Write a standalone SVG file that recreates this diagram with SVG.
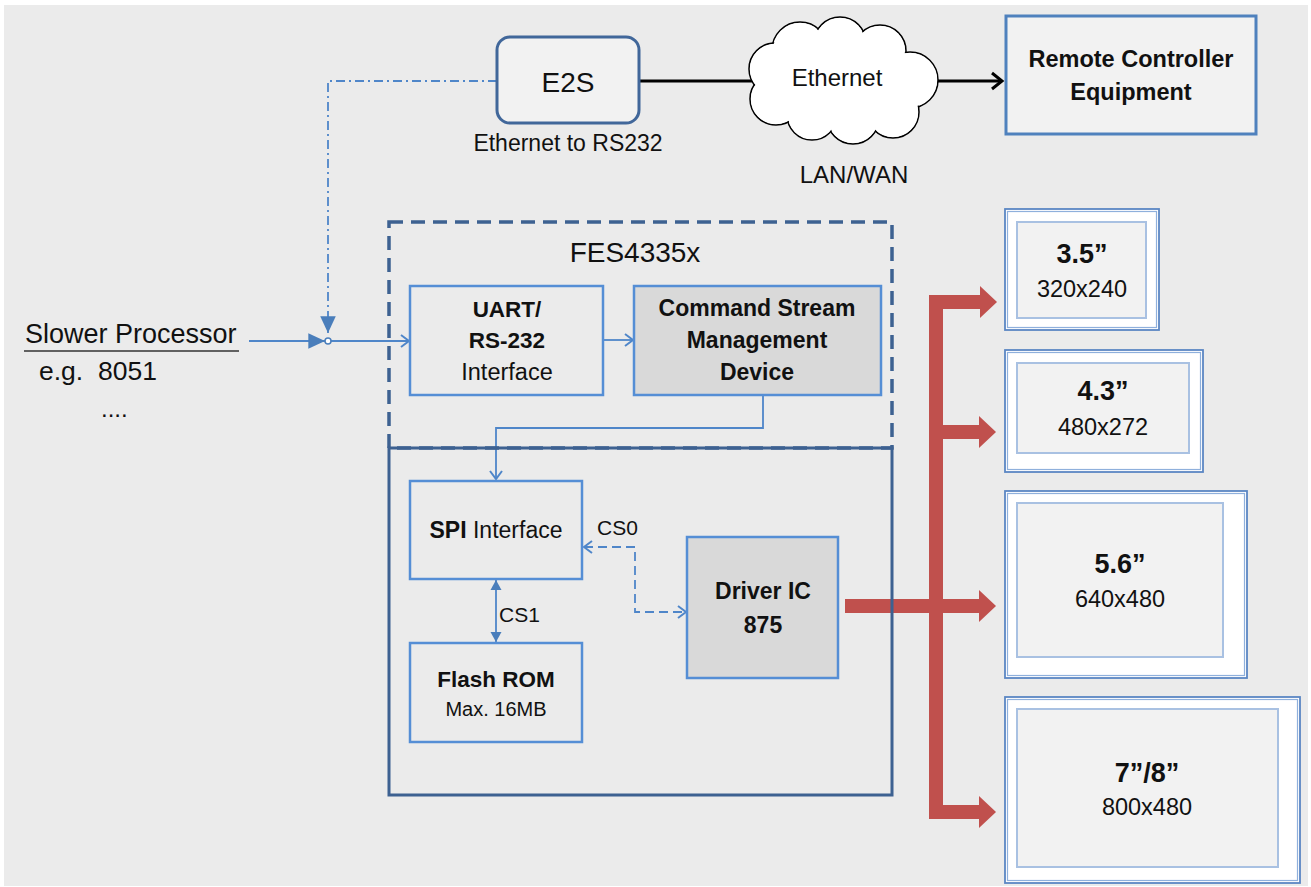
<svg xmlns="http://www.w3.org/2000/svg" width="1311" height="887" viewBox="0 0 1311 887">
<defs>
<style>
text{font-family:"Liberation Sans",Arial,sans-serif;fill:#111;}
.b{font-weight:bold;}
.box{fill:none;stroke:#558ed5;stroke-width:2.5;}
.gbox{fill:#d9d9d9;stroke:#558ed5;stroke-width:2.5;}
.conn{fill:none;stroke:#4f86c9;stroke-width:1.8;}
.disp-o{fill:#fff;stroke:#5b87c4;stroke-width:1.8;}
.disp-o2{fill:none;stroke:#8fb0dc;stroke-width:1.2;}
.disp-i{fill:#f2f2f2;stroke:#a9c1e2;stroke-width:2;}
.red{fill:none;stroke:#c0504d;stroke-width:14;stroke-linejoin:miter;}
</style>
<marker id="chev" markerUnits="userSpaceOnUse" markerWidth="16" markerHeight="16" viewBox="-12 -8 14 16" refX="0" refY="0" orient="auto-start-reverse" overflow="visible">
<path d="M-8,-6 L0,0 L-8,6" fill="none" stroke="#4f86c9" stroke-width="2"/>
</marker>
<marker id="tri" markerUnits="userSpaceOnUse" markerWidth="16" markerHeight="16" viewBox="-12 -8 14 16" refX="0" refY="0" orient="auto-start-reverse" overflow="visible">
<path d="M-10,-5.5 L0,0 L-10,5.5 Z" fill="#4a7ebb"/>
</marker>
<marker id="tribig" markerUnits="userSpaceOnUse" markerWidth="20" markerHeight="20" viewBox="-16 -9 18 18" refX="0" refY="0" orient="auto" overflow="visible">
<path d="M-15,-7 L0,0 L-15,7 Z" fill="#4a7ebb"/>
</marker>
<marker id="blk" markerUnits="userSpaceOnUse" markerWidth="16" markerHeight="20" viewBox="-14 -10 16 20" refX="0" refY="0" orient="auto" overflow="visible">
<path d="M-10,-8 L0,0 L-10,8" fill="none" stroke="#000" stroke-width="3"/>
</marker>
<marker id="redhead" markerUnits="userSpaceOnUse" markerWidth="20" markerHeight="34" viewBox="0 -17 20 34" refX="0" refY="0" orient="auto" overflow="visible">
<path d="M0,-16 L17,0 L0,16 Z" fill="#c0504d"/>
</marker>
</defs>

<rect x="0" y="0" width="1311" height="887" fill="#ffffff"/>
<rect x="4" y="5" width="1304" height="881" fill="#ebebeb"/>

<g id="connectors">
  <path class="conn" d="M497 81 H328 V333" stroke-dasharray="9 4 2 4" marker-end="url(#tribig)"/>
  <path class="conn" d="M249 341 H325" marker-end="url(#tribig)"/>
  <path class="conn" d="M331 341 H409" marker-end="url(#chev)"/>
  <path class="conn" d="M603 340 H633" marker-end="url(#chev)"/>
  <path class="conn" d="M763 395 V428 H496 V479" marker-end="url(#chev)"/>
  <path class="conn" d="M496 580 V642" marker-start="url(#tri)" marker-end="url(#tri)"/>
  <path class="conn" d="M584 547 H635 V612 H686" stroke-dasharray="9 5" marker-start="url(#chev)" marker-end="url(#chev)"/>
  <path d="M639 81 H770" fill="none" stroke="#000" stroke-width="3"/>
  <path d="M930 81 H1002" fill="none" stroke="#000" stroke-width="3" marker-end="url(#blk)"/>
  <path class="red" d="M979 302 H936 V812 H979" marker-end="url(#redhead)"/>
  <path class="red" d="M936 432 H979" marker-end="url(#redhead)"/>
  <path class="red" d="M845 606 H979" marker-end="url(#redhead)"/>
  <path d="M979 302 H980" fill="none" stroke="#c0504d" stroke-width="14" marker-end="url(#redhead)"/>
  <circle cx="328" cy="341" r="3" fill="#fff" stroke="#4a7ebb" stroke-width="1.5"/>
</g>

<g id="slower-processor">
  <text x="25" y="343" font-size="27">Slower Processor</text>
  <line x1="24" y1="351" x2="239" y2="351" stroke="#333" stroke-width="1.5"/>
  <text x="39" y="380" font-size="26.5" xml:space="preserve">e.g.  8051</text>
  <text x="101" y="417" font-size="24">....</text>
</g>

<g id="e2s">
  <rect x="497" y="37" width="142" height="86" rx="13" fill="#f2f2f2" stroke="#41679a" stroke-width="3"/>
  <text x="568" y="92" font-size="28" text-anchor="middle">E2S</text>
  <text x="568" y="151" font-size="23" text-anchor="middle">Ethernet to RS232</text>
</g>

<g id="cloud">
  <g fill="#fff" stroke="#000" stroke-width="1.5">
    <circle cx="800" cy="50" r="28"/>
    <circle cx="840" cy="43" r="26"/>
    <circle cx="880" cy="51" r="26"/>
    <circle cx="910" cy="80" r="28"/>
    <circle cx="893" cy="112" r="26"/>
    <circle cx="853" cy="118" r="26"/>
    <circle cx="812" cy="115" r="25"/>
    <circle cx="776" cy="99" r="26"/>
    <circle cx="775" cy="69" r="26"/>
  </g>
  <g fill="#fff">
    <circle cx="800" cy="50" r="27"/>
    <circle cx="840" cy="43" r="25"/>
    <circle cx="880" cy="51" r="25"/>
    <circle cx="910" cy="80" r="27"/>
    <circle cx="893" cy="112" r="25"/>
    <circle cx="853" cy="118" r="25"/>
    <circle cx="812" cy="115" r="24"/>
    <circle cx="776" cy="99" r="25"/>
    <circle cx="775" cy="69" r="25"/>
    <ellipse cx="843" cy="82" rx="70" ry="45"/>
  </g>
  <text x="837" y="86" font-size="24" text-anchor="middle">Ethernet</text>
  <text x="854" y="183" font-size="24" text-anchor="middle">LAN/WAN</text>
</g>

<g id="remote-controller">
  <rect x="1006" y="16" width="250" height="118" fill="#f2f2f2" stroke="#4f81bd" stroke-width="3"/>
  <text class="b" x="1131" y="67" font-size="23.5" text-anchor="middle">Remote Controller</text>
  <text class="b" x="1131" y="100" font-size="23.5" text-anchor="middle">Equipment</text>
</g>

<g id="fes4335x">
  <rect x="389" y="222" width="503" height="226" fill="none" stroke="#3d6191" stroke-width="3.5" stroke-dasharray="14 8"/>
  <text x="635" y="262" font-size="28" text-anchor="middle">FES4335x</text>
</g>

<g id="lower-module">
  <rect x="389" y="448" width="503" height="347" fill="none" stroke="#3d6191" stroke-width="3"/>
</g>

<g id="uart">
  <rect class="box" x="410" y="286" width="193" height="109"/>
  <text class="b" x="507" y="317" font-size="22.5" text-anchor="middle">UART/</text>
  <text class="b" x="507" y="348" font-size="22.5" text-anchor="middle">RS-232</text>
  <text x="507" y="380" font-size="23.5" text-anchor="middle">Interface</text>
</g>

<g id="command-stream">
  <rect class="gbox" x="634" y="286" width="247" height="109"/>
  <text class="b" x="757" y="316" font-size="23" text-anchor="middle">Command Stream</text>
  <text class="b" x="757" y="348" font-size="23" text-anchor="middle">Management</text>
  <text class="b" x="757" y="380" font-size="23" text-anchor="middle">Device</text>
</g>

<g id="spi">
  <rect class="box" x="410" y="481" width="172" height="98"/>
  <text x="496" y="538" font-size="23" text-anchor="middle"><tspan class="b">SPI</tspan> Interface</text>
  <text x="597" y="535" font-size="21">CS0</text>
  <text x="499" y="622" font-size="21">CS1</text>
</g>

<g id="flash-rom">
  <rect class="box" x="410" y="643" width="172" height="99"/>
  <text class="b" x="496" y="687" font-size="22.5" text-anchor="middle">Flash ROM</text>
  <text x="496" y="716" font-size="20" text-anchor="middle">Max. 16MB</text>
</g>

<g id="driver-ic">
  <rect class="gbox" x="687" y="537" width="151" height="141"/>
  <text class="b" x="763" y="599" font-size="23" text-anchor="middle">Driver IC</text>
  <text class="b" x="763" y="633" font-size="23" text-anchor="middle">875</text>
</g>

<g id="display-35">
  <rect class="disp-o" x="1005" y="209" width="154" height="121"/>
  <rect class="disp-o2" x="1007.5" y="211.5" width="149" height="116"/>
  <rect class="disp-i" x="1017" y="222" width="129" height="96"/>
  <text class="b" x="1082" y="263" font-size="27" text-anchor="middle">3.5”</text>
  <text x="1082" y="297" font-size="23.5" text-anchor="middle">320x240</text>
</g>

<g id="display-43">
  <rect class="disp-o" x="1005" y="350" width="198" height="122"/>
  <rect class="disp-o2" x="1007.5" y="352.5" width="193" height="117"/>
  <rect class="disp-i" x="1017" y="363" width="172" height="90"/>
  <text class="b" x="1103" y="400" font-size="27" text-anchor="middle">4.3”</text>
  <text x="1103" y="435" font-size="23.5" text-anchor="middle">480x272</text>
</g>

<g id="display-56">
  <rect class="disp-o" x="1005" y="491" width="242" height="187"/>
  <rect class="disp-o2" x="1007.5" y="493.5" width="237" height="182"/>
  <rect class="disp-i" x="1017" y="503" width="206" height="154"/>
  <text class="b" x="1120" y="573" font-size="27" text-anchor="middle">5.6”</text>
  <text x="1120" y="607" font-size="23.5" text-anchor="middle">640x480</text>
</g>

<g id="display-78">
  <rect class="disp-o" x="1005" y="697" width="295" height="186"/>
  <rect class="disp-o2" x="1007.5" y="699.5" width="290" height="181"/>
  <rect class="disp-i" x="1017" y="709" width="261" height="158"/>
  <text class="b" x="1147" y="782" font-size="27" text-anchor="middle">7”/8”</text>
  <text x="1147" y="815" font-size="23.5" text-anchor="middle">800x480</text>
</g>
</svg>
